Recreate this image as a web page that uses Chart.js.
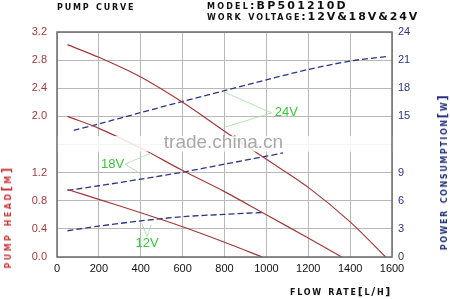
<!DOCTYPE html>
<html>
<head>
<meta charset="utf-8">
<script src="https://cdn.jsdelivr.net/npm/chart.js@4/dist/chart.umd.min.js"></script>
<style>
  html, body { margin: 0; padding: 0; background: #fff; }
  #wrap { position: relative; width: 450px; height: 299px; overflow: hidden; }
  .t { position: absolute; white-space: nowrap; font-family: "DejaVu Sans", sans-serif; font-weight: bold;
       font-variant: small-caps; text-transform: lowercase; }
  .t b { font-weight: bold; text-transform: uppercase; }
</style>
</head>
<body>
<div id="wrap">
  <canvas id="c" width="450" height="299"></canvas>
  <div class="t" style="left:57px;top:0px;font-size:11px;letter-spacing:1.8px;color:#111">Pump curve</div>
  <div class="t" style="left:207px;top:-1px;font-size:11px;letter-spacing:2.2px;color:#111">Model:<b>BP501210D</b></div>
  <div class="t" style="left:207px;top:10px;font-size:11px;letter-spacing:1.9px;color:#111">Work voltage:<b>12V&amp;18V&amp;24V</b></div>
  <div class="t" style="left:7px;top:217px;font-size:12px;letter-spacing:2.4px;color:#c83a3a;transform:translate(-50%,-50%) rotate(-90deg)">Pump head[m]</div>
  <div class="t" style="left:443px;top:172px;font-size:12px;letter-spacing:1.6px;color:#23307e;transform:translate(-50%,-50%) rotate(-90deg)">Power consumption[w]</div>
  <div class="t" style="left:341px;top:291px;font-size:11px;letter-spacing:1.7px;color:#111;transform:translate(-50%,-50%)">Flow rate[l/h]</div>
</div>
<script>
// ── Données ───────────────────────────────────────────────────────────────────
const head24Flow = [50, 200, 400, 600, 800, 1000, 1200, 1400, 1570];
const head24     = [3.02, 2.84, 2.56, 2.2, 1.79, 1.39, 0.99, 0.5, 0];
const head18Flow = [50, 200, 400, 600, 800, 1000, 1200, 1360];
const head18     = [2.0, 1.83, 1.55, 1.23, 0.93, 0.6, 0.27, 0];
const head12Flow = [50, 200, 400, 600, 800, 980];
const head12     = [0.96, 0.82, 0.63, 0.43, 0.21, 0];

const pow24Flow = [80, 200, 400, 600, 800, 1000, 1200, 1400, 1580];
const pow24     = [13.5, 14.2, 15.4, 16.6, 17.75, 18.9, 20.0, 20.9, 21.4];
const pow18Flow = [50, 200, 400, 600, 800, 1000, 1080];
const pow18     = [7.1, 7.6, 8.3, 9.05, 9.9, 10.75, 11.1];
const pow12Flow = [50, 200, 400, 600, 800, 980];
const pow12     = [2.8, 3.3, 3.85, 4.3, 4.55, 4.75];

// Étiquettes de tension : position (débit, hauteur) + extrémités des traits
const voltLabels = ['24V', '18V', '12V'];
const labelFlow  = [1095, 265, 430];
const labelHead  = [2.05, 1.31, 0.2];
const leaderFrom = [[1025, 2.05], [325, 1.32], [430, 0.29]];
const leaderTo   = [[[795, 2.35], [805, 1.85]], [[450, 1.48], [396, 1.19]], [[405, 0.48], [450, 0.46]]];

const HEAD_MAX = 3.2;
const POW_MAX  = 24;
const hiddenHeadTick = 1.6;   // caché par le filigrane
const hiddenPowTick  = 12;

const RED  = '#a33a3a';
const BLUE = '#2b3585';

const pts = (xs, ys) => xs.map((x, i) => ({ x, y: ys[i] }));

function headSet(xs, ys) {
  return { data: pts(xs, ys), yAxisID: 'y', borderColor: RED, borderWidth: 1.2,
           pointRadius: 0, tension: 0.3, fill: false };
}
function powSet(xs, ys) {
  return { data: pts(xs, ys), yAxisID: 'y1', borderColor: BLUE, borderWidth: 1.3,
           borderDash: [6, 3], pointRadius: 0, tension: 0.3, fill: false };
}

// ── Plugin : cadre, filigrane, étiquettes ─────────────────────────────────────
const decor = {
  id: 'decor',
  afterDatasetsDraw(chart) {
    const { ctx, chartArea: a, scales: { x, y } } = chart;
    ctx.save();
    // bande blanche du filigrane
    const y1 = y.getPixelForValue(1.72), y2 = y.getPixelForValue(1.5);
    ctx.fillStyle = 'rgba(255,255,255,0.85)';
    ctx.fillRect(a.left - 1, y1, a.right - a.left + 2, y2 - y1);
    ctx.font = '19px "Liberation Sans", Arial, sans-serif';
    ctx.fillStyle = '#a9a9a9';
    ctx.textAlign = 'left';
    ctx.textBaseline = 'middle';
    ctx.fillText('trade.china.cn', x.getPixelForValue(510), y.getPixelForValue(1.62));

    // cadre
    ctx.strokeStyle = '#6b6b6b';
    ctx.lineWidth = 1.5;
    ctx.strokeRect(a.left, a.top, a.right - a.left, a.bottom - a.top);

    // traits + étiquettes de tension
    ctx.strokeStyle = '#a9d9a9';
    ctx.lineWidth = 0.8;
    voltLabels.forEach((lab, i) => {
      const [fx, fy] = leaderFrom[i];
      leaderTo[i].forEach(([tx, ty]) => {
        ctx.beginPath();
        ctx.moveTo(x.getPixelForValue(fx), y.getPixelForValue(fy));
        ctx.lineTo(x.getPixelForValue(tx), y.getPixelForValue(ty));
        ctx.stroke();
      });
      ctx.font = '13px "Liberation Sans", Arial, sans-serif';
      ctx.fillStyle = '#3cc43c';
      ctx.textAlign = 'center';
      ctx.fillText(lab, x.getPixelForValue(labelFlow[i]), y.getPixelForValue(labelHead[i]));
    });
    ctx.restore();
  }
};

new Chart(document.getElementById('c'), {
  type: 'line',
  data: {
    datasets: [
      headSet(head24Flow, head24), headSet(head18Flow, head18), headSet(head12Flow, head12),
      powSet(pow24Flow, pow24), powSet(pow18Flow, pow18), powSet(pow12Flow, pow12),
    ],
  },
  options: {
    responsive: false,
    animation: false,
    layout: { padding: { top: 32, right: 0, bottom: 0, left: 0 } },
    plugins: { legend: { display: false }, tooltip: { enabled: false } },
    scales: {
      x: {
        type: 'linear', min: 0, max: 1600,
        ticks: { stepSize: 200, padding: 5, color: '#111', font: { family: 'Liberation Sans', size: 11 },
                 callback: v => String(v) },
        grid: { color: '#b9b9b9', drawTicks: false },
        border: { display: false },
        afterFit: s => { s.height = 42; },
      },
      y: {
        position: 'left', min: 0, max: HEAD_MAX,
        ticks: {
          stepSize: 0.4, padding: 10, color: RED, font: { family: 'Liberation Sans', size: 11 },
          callback: v => Math.abs(v - hiddenHeadTick) < 1e-6 ? '' : v.toFixed(1),
        },
        grid: { color: '#b9b9b9', drawTicks: false },
        border: { display: false },
        afterFit: s => { s.width = 57; },
      },
      y1: {
        position: 'right', min: 0, max: POW_MAX,
        ticks: {
          stepSize: 3, padding: 6, color: BLUE, font: { family: 'Liberation Sans', size: 11 },
          callback: v => v === hiddenPowTick ? '' : v,
        },
        grid: { display: false, drawTicks: false },
        border: { display: false },
        afterFit: s => { s.width = 58; },
      },
    },
  },
  plugins: [decor],
});
</script>
</body>
</html>
